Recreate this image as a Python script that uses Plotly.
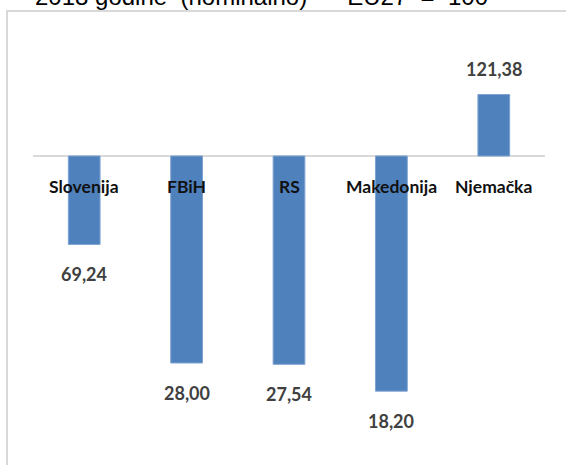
import plotly.graph_objects as go

categories = ["Slovenija", "FBiH", "RS", "Makedonija", "Njemačka"]
values = [69.24, 28.00, 27.54, 18.20, 121.38]
value_labels = ["69,24", "28,00", "27,54", "18,20", "121,38"]
baseline = 100
title_text = "2018 godine  (nominalno)  –  EU27  =  100"

W, H = 566, 465
L, R, T, B = 33, 21, 30, 10
plot_h = H - T - B
y_top = 143.83
y_bot = -4.0

fig = go.Figure()
fig.add_trace(go.Bar(
    x=categories,
    y=[v - baseline for v in values],
    base=[baseline] * len(values),
    width=0.31,
    marker=dict(color="#4f81bd", line=dict(color="#7ea3d0", width=1)),
    hoverinfo="skip",
))

annotations = []
for c, v, lab in zip(categories, values, value_labels):
    annotations.append(dict(
        x=c, y=v, xref="x", yref="y", text=lab, showarrow=False,
        yshift=(26 if v >= baseline else -30), yanchor="middle",
        font=dict(family="Lato", size=18, color="#404040", weight="bold"),
    ))
    annotations.append(dict(
        x=c, y=baseline, xref="x", yref="y", text=c, showarrow=False,
        yshift=-30, yanchor="middle",
        font=dict(family="Lato", size=17.5, color="#111111", weight="bold"),
    ))

annotations.append(dict(
    x=0, y=1 + (T - 11.5) / plot_h, xref="paper", yref="paper", text=title_text,
    showarrow=False, xanchor="left", yanchor="bottom",
    font=dict(family="Liberation Sans", size=24, color="#000000"),
))

pw = W - L - R
fig.update_layout(
    width=W, height=H,
    margin=dict(l=L, r=R, t=T, b=B),
    paper_bgcolor="white", plot_bgcolor="white",
    showlegend=False,
    xaxis=dict(visible=False, range=[-0.5, 4.5]),
    yaxis=dict(visible=False, range=[y_bot, y_top]),
    annotations=annotations,
    shapes=[
        dict(type="line", xref="paper", yref="y", x0=0, x1=1, y0=baseline, y1=baseline,
             line=dict(color="#d9d9d9", width=2), layer="below"),
        dict(type="rect", xref="paper", yref="paper",
             x0=(7 - L) / pw, x1=1.3, y0=-0.2, y1=1 + (T - 11) / plot_h,
             line=dict(color="#d9d9d9", width=2), layer="below"),
    ],
)

fig.write_html("out.html", config={"displayModeBar": False},
               post_script="document.body.style.margin='0';")
